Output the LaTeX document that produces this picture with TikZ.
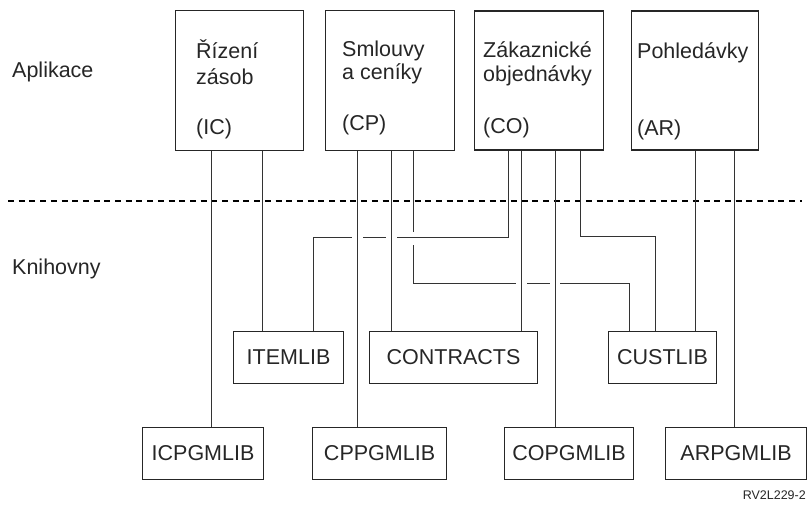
\documentclass[tikz,border=0pt]{standalone}
\usepackage{fontspec}
\setmainfont{Liberation Sans}
\begin{document}
\begin{tikzpicture}[x=1pt,y=-1pt,
  box/.style={draw=black!85, line width=1.1pt, inner sep=0pt, anchor=north west},
  lib/.style={draw=black!85, line width=1.1pt, inner sep=0pt, anchor=north west, minimum height=52pt, font=\fontsize{21.5}{25}\selectfont, text=black!85},
  lbl/.style={anchor=base west, inner sep=0pt, font=\fontsize{21.5}{25}\selectfont, text=black!85},
  conn/.style={draw=black!80, line width=1pt},
  gap/.style={fill=white, draw=none}]
\useasboundingbox (0,0) rectangle (807,505);
% application boxes
\node[box, minimum width=128pt, minimum height=140pt] (ic) at (175,10) {};
\node[box, minimum width=129pt, minimum height=140pt] (cp) at (325,10) {};
\node[box, minimum width=129pt, minimum height=139pt] (co) at (474,10.5) {};
\node[box, minimum width=127pt, minimum height=139pt] (ar) at (631,10.5) {};
% texts in application boxes
\node[lbl] (ic1) at (196,59) {Řízení};
\node[lbl] (ic2) at (196,85) {zásob};
\node[lbl] (ic3) at (196,135) {(IC)};
\node[lbl] (cp1) at (342,57) {Smlouvy};
\node[lbl] (cp2) at (342,80) {a ceníky};
\node[lbl] (cp3) at (342,131) {(CP)};
\node[lbl] (co1) at (483,58) {Zákaznické};
\node[lbl] (co2) at (483,82) {objednávky};
\node[lbl] (co3) at (483,134) {(CO)};
\node[lbl] (ar1) at (637,59) {Pohledávky};
\node[lbl] (ar3) at (637,136) {(AR)};
% side labels
\node[lbl] (apl) at (12,78) {Aplikace};
\node[lbl] (kni) at (12,275) {Knihovny};
% dashed separator
\coordinate (dl) at (8,201);
\coordinate (dr) at (802,201);
\draw[black, line width=1.6pt, dash pattern=on 6pt off 4.7pt] (dl) -- (dr);
% library boxes
\node[lib, minimum width=110pt] (itemlib) at (233,331) {ITEMLIB};
\node[lib, minimum width=168pt] (contracts) at (369,331) {CONTRACTS};
\node[lib, minimum width=108pt] (custlib) at (608,331) {CUSTLIB};
\node[lib, minimum width=121pt] (icpgm) at (142,427) {ICPGMLIB};
\node[lib, minimum width=134pt] (cppgm) at (312,427) {CPPGMLIB};
\node[lib, minimum width=129pt] (copgm) at (504,427) {COPGMLIB};
\node[lib, minimum width=141pt] (arpgm) at (665,427) {ARPGMLIB};
% figure id
\node[anchor=base east, inner sep=0pt, font=\fontsize{12.5}{15}\selectfont, text=black!85] (rv) at (806,500) {RV2L229-2};
% connector column positions
\foreach \n/\x in {a/211,b/262,c/357,d/391,e/413,f/508,g/521,h/555,i/580,j/695,k/734,m/313,n/629,p/655}
  \coordinate (x\n) at (\x,0);
\coordinate (bendB) at (413,284);
\coordinate (bendA) at (508,238);
\coordinate (bendC) at (580,237);
% connector B (CP -> CUSTLIB), lowest layer
\draw[conn] (cp.south -| xe) -- (bendB) -| (custlib.north -| xn);
% gap in B's vertical under A
\fill[gap] (410.5,232) rectangle (415.5,245);
% connector A (CO -> ITEMLIB)
\draw[conn] (co.south -| xf) -- (bendA) -| (itemlib.north -| xm);
% connector C (CO -> CUSTLIB)
\draw[conn] (co.south -| xi) -- (bendC) -| (custlib.north -| xp);
% gaps where verticals pass over
\fill[gap] (352,235.5) rectangle (363,240.5);
\fill[gap] (386,235.5) rectangle (397,240.5);
\fill[gap] (516,281.5) rectangle (527,286.5);
\fill[gap] (549.5,281.5) rectangle (559.5,286.5);
% straight connectors
\draw[conn] (ic.south -| xa) -- (icpgm.north -| xa);
\draw[conn] (ic.south -| xb) -- (itemlib.north -| xb);
\draw[conn] (cp.south -| xc) -- (cppgm.north -| xc);
\draw[conn] (cp.south -| xd) -- (contracts.north -| xd);
\draw[conn] (co.south -| xg) -- (contracts.north -| xg);
\draw[conn] (co.south -| xh) -- (copgm.north -| xh);
\draw[conn] (ar.south -| xj) -- (custlib.north -| xj);
\draw[conn] (ar.south -| xk) -- (arpgm.north -| xk);
\end{tikzpicture}
\end{document}
